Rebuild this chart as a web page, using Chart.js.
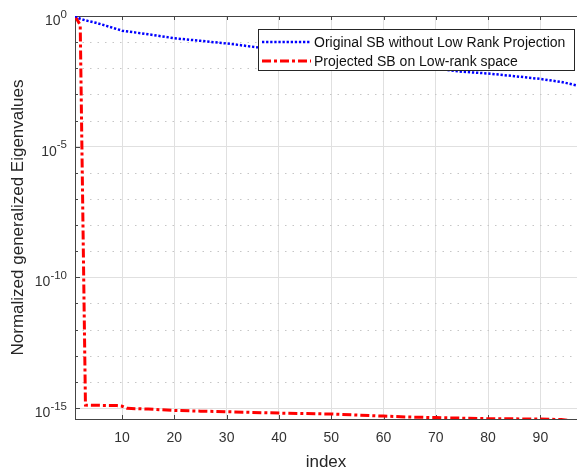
<!DOCTYPE html>
<html>
<head>
<meta charset="utf-8">
<script src="https://cdn.jsdelivr.net/npm/chart.js@4"></script>
<style>
  html, body { margin: 0; padding: 0; background: #fff; overflow: hidden; }
</style>
</head>
<body>
<canvas id="chart" width="577" height="472"></canvas>
<script>
// values
const origIndex  = [1, 2, 3, 5, 7, 10, 15, 20, 25, 30, 36, 45, 55, 65, 75, 80, 85, 90, 94, 97];
const origValues = [1, 0.78, 0.68, 0.55, 0.42, 0.275, 0.20, 0.141, 0.112, 0.089, 0.063,
                    0.038, 0.022, 0.0126, 0.0074, 0.0063, 0.0050, 0.0039, 0.0030, 0.0022];

const projIndex  = [1, 2, 3, 9, 10, 11, 15, 20, 25, 30, 40, 50, 55, 60, 65, 70, 80, 90, 94, 97];
const projValues = [1, 0.45, 1.29e-15, 1.24e-15, 1.17e-15, 9.7e-16, 9.1e-16, 8.1e-16, 7.6e-16,
                    7.2e-16, 6.4e-16, 5.9e-16, 5.4e-16, 4.9e-16, 4.5e-16, 4.3e-16, 3.9e-16,
                    3.8e-16, 3.6e-16, 3.2e-16];

const xTicks = [10, 20, 30, 40, 50, 60, 70, 80, 90];
const yTicks = [1, 1e-5, 1e-10, 1e-15];
const yTickExponents = ['0', '-5', '-10', '-15'];

Chart.defaults.font.family = '"Liberation Sans", Arial, Helvetica, sans-serif';

// dotted minor decade grid, inward ticks, top border and 10^n labels, MATLAB style
const matlabAxes = {
  id: 'matlabAxes',
  beforeDatasetsDraw(chart) {
    const { ctx, chartArea: a, scales: { x, y } } = chart;
    ctx.save();
    ctx.lineWidth = 1;
    ctx.strokeStyle = '#c6c6c6';
    ctx.setLineDash([1.5, 6]);
    for (let e = -1; e >= -15; e--) {
      if (e % 5 === 0) continue;
      const py = Math.round(y.getPixelForValue(10 ** e)) + 0.5;
      ctx.beginPath(); ctx.moveTo(a.left, py); ctx.lineTo(a.right, py); ctx.stroke();
    }
    ctx.setLineDash([]);
    ctx.strokeStyle = '#444';
    const top = Math.round(a.top) + 0.5;
    ctx.beginPath(); ctx.moveTo(a.left, top); ctx.lineTo(a.right, top); ctx.stroke();
    for (const v of xTicks) {
      const px = Math.round(x.getPixelForValue(v)) + 0.5;
      ctx.beginPath();
      ctx.moveTo(px, a.bottom); ctx.lineTo(px, a.bottom - 4);
      ctx.moveTo(px, a.top); ctx.lineTo(px, a.top + 4);
      ctx.stroke();
    }
    for (let e = 0; e >= -15; e--) {
      const py = Math.round(y.getPixelForValue(10 ** e)) + 0.5;
      const len = e % 5 === 0 ? 5 : 3;
      ctx.beginPath(); ctx.moveTo(a.left, py); ctx.lineTo(a.left + len, py); ctx.stroke();
    }

    // y tick labels with a raised exponent
    ctx.fillStyle = '#333';
    ctx.textAlign = 'right';
    ctx.textBaseline = 'alphabetic';
    const rightEdge = a.left - 8;
    yTicks.forEach((v, i) => {
      const py = y.getPixelForValue(v);
      ctx.font = '11.5px "Liberation Sans", Arial, sans-serif';
      const exp = yTickExponents[i];
      const ew = ctx.measureText(exp).width;
      ctx.fillText(exp, rightEdge, py + 1.5);
      ctx.font = '14px "Liberation Sans", Arial, sans-serif';
      ctx.fillText('10', rightEdge - ew, py + 9);
    });
    ctx.restore();
  }
};

// boxed legend inside the plot, upper right
const boxLegend = {
  id: 'boxLegend',
  afterDatasetsDraw(chart) {
    const ctx = chart.ctx;
    ctx.save();
    ctx.fillStyle = '#fff';
    ctx.fillRect(258.5, 29.5, 316, 41);
    ctx.strokeStyle = '#262626';
    ctx.lineWidth = 1;
    ctx.strokeRect(258.5, 29.5, 316, 41);
    ctx.font = '14px "Liberation Sans", Arial, sans-serif';
    ctx.textBaseline = 'middle';
    chart.data.datasets.forEach((ds, i) => {
      const ly = 42 + i * 19;
      ctx.strokeStyle = ds.borderColor;
      ctx.lineWidth = ds.borderWidth;
      ctx.setLineDash(ds.borderDash);
      ctx.beginPath(); ctx.moveTo(262, ly); ctx.lineTo(311, ly); ctx.stroke();
      ctx.setLineDash([]);
      ctx.fillStyle = '#111';
      ctx.fillText(ds.label, 314, ly + 1);
    });
    ctx.restore();
  }
};

new Chart(document.getElementById('chart').getContext('2d'), {
  type: 'line',
  data: {
    datasets: [{
      label: 'Original SB without Low Rank Projection',
      data: origIndex.map((v, i) => ({ x: v, y: origValues[i] })),
      borderColor: '#0000ff',
      borderWidth: 2.5,
      borderDash: [2.3, 1.8],
      pointRadius: 0,
      tension: 0,
    }, {
      label: 'Projected SB on Low-rank space',
      data: projIndex.map((v, i) => ({ x: v, y: projValues[i] })),
      borderColor: '#ff0000',
      borderWidth: 3,
      borderDash: [9, 3, 3, 3],
      pointRadius: 0,
      tension: 0,
    }]
  },
  options: {
    responsive: false,
    animation: false,
    devicePixelRatio: 1,
    layout: { padding: { top: 16, right: 0, left: 0, bottom: 0 } },
    plugins: {
      legend: { display: false },   // drawn by boxLegend
      tooltip: { enabled: false }
    },
    scales: {
      x: {
        type: 'linear',
        min: 1,
        max: 97,
        afterBuildTicks: s => { s.ticks = xTicks.map(v => ({ value: v })); },
        afterFit: s => { s.height = 53; },
        grid: { color: '#e0e0e0', drawTicks: false },
        border: { color: '#444' },
        ticks: { color: '#333', font: { size: 14 }, padding: 11, maxRotation: 0 },
        title: { display: true, text: 'index', color: '#262626', font: { size: 17 },
                 padding: { top: 0, bottom: -1 } }
      },
      y: {
        type: 'logarithmic',
        min: 10 ** -15.42,
        max: 1,
        afterBuildTicks: s => { s.ticks = yTicks.map(v => ({ value: v })); },
        afterFit: s => { s.width = 75; },
        grid: { color: '#e0e0e0', drawTicks: false },
        border: { color: '#444' },
        ticks: { display: false },   // labels with exponents drawn by matlabAxes
        title: { display: true, text: 'Normalized generalized Eigenvalues', color: '#262626',
                 font: { size: 17 }, padding: { top: 8, bottom: 0 } }
      }
    }
  },
  plugins: [matlabAxes, boxLegend]
});
</script>
</body>
</html>
